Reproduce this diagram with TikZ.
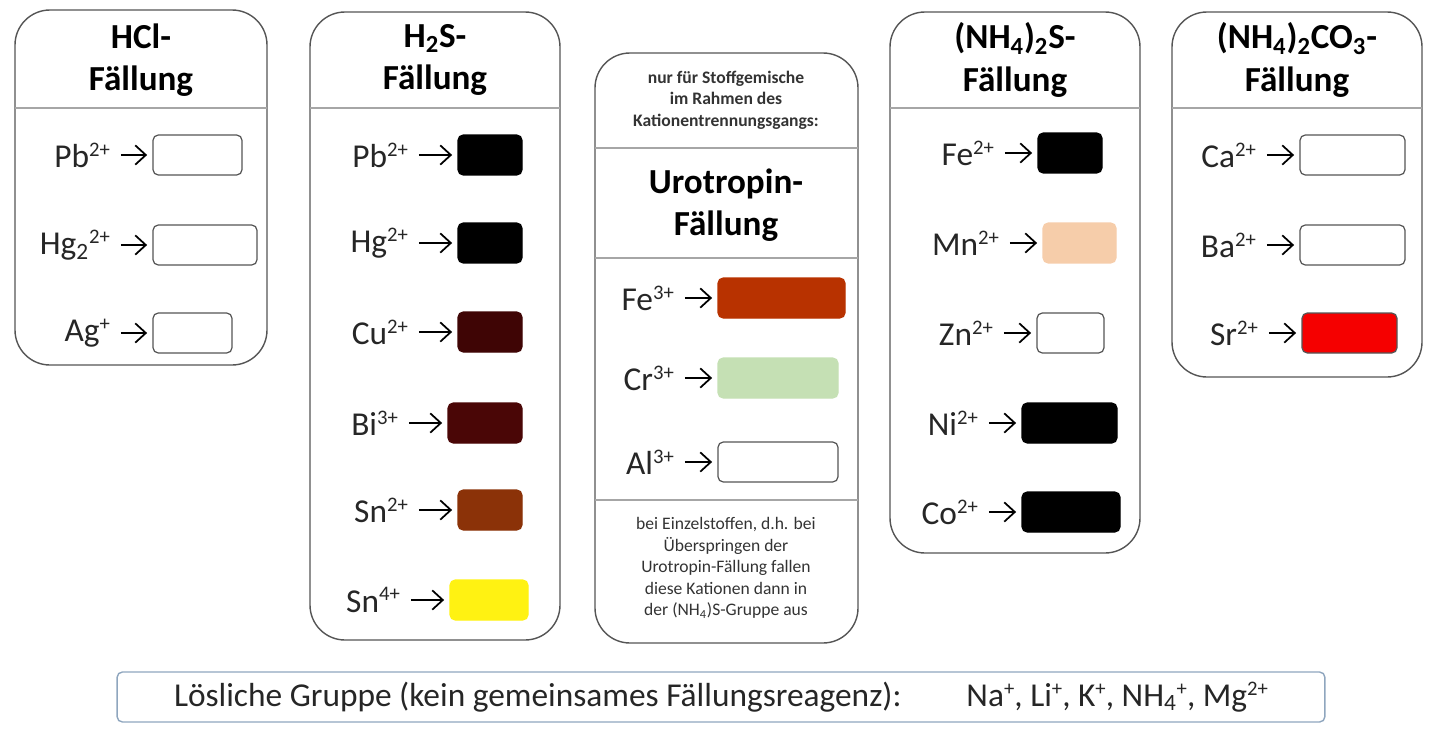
\documentclass[tikz,border=0pt]{standalone}
\usepackage{fontspec}
\setmainfont{Carlito}
\usetikzlibrary{arrows.meta}
\definecolor{cuS}{HTML}{3F0505}
\definecolor{biS}{HTML}{4A0606}
\definecolor{snS}{HTML}{8B3208}
\definecolor{snY}{HTML}{FFF212}
\definecolor{feO}{HTML}{B83200}
\definecolor{crO}{HTML}{C5E0B4}
\definecolor{mnS}{HTML}{F6CDAA}
\definecolor{srC}{HTML}{F50000}
\definecolor{frame}{HTML}{555555}
\definecolor{soft}{HTML}{8FA6BE}
\newcommand\chg[1]{\raisebox{0.7ex}{\scalebox{0.62}{#1}}}

\begin{document}
\begin{tikzpicture}[
        x=0.02cm, y=-0.02cm,
        >={Straight Barb[length=6pt,width=11pt]},
        panel/.style={draw=frame, line width=0.8pt, rounded corners=0.7cm},
        divider/.style={draw=black!35, line width=0.6pt},
        title/.style={font=\fontsize{20}{24}\selectfont\bfseries, align=center},
        ion/.style={font=\fontsize{19}{20}\selectfont, anchor=east, inner sep=1pt, text=black!85},
        link/.style={->, line width=1pt, shorten <=5pt, shorten >=3pt},
        swatch/.style={rounded corners=3pt, line width=0.7pt, minimum height=0.8cm, inner sep=0pt},
        note/.style={font=\fontsize{10}{12.3}\selectfont, align=center, text=black!80},
    ]

        \useasboundingbox (0,0) rectangle (1440,737);

        % HCl group
        \draw[panel] (15,10) rectangle (267,365);
        \draw[divider] (15,108) -- (267,108);
        \node[title] (hcl-title) at (141,60) {HCl-\\Fällung};
        \foreach \name/\y/\xa/\xb/\col/\bd [count=\i] in {
            Pb\chg{2+}/155/153/242/white/frame,
            Hg\textsubscript{2}\chg{2+}/245/153/257/white/frame,
            Ag\chg{+}/333/153/232/white/frame} {
            \node[ion] (hcl-\i) at (112,\y) {\name};
            \node[swatch, fill=\col, draw=\bd, minimum width={(\xb-\xa)*0.02cm}] (hclp-\i) at ({(\xa+\xb)/2},\y) {};
            \draw[link] (hcl-\i) -- (hclp-\i);
        }

        % H2S group
        \draw[panel] (310,12) rectangle (560,640);
        \draw[divider] (310,108) -- (560,108);
        \node[title] (hs-title) at (435,60) {H\textsubscript{2}S-\\Fällung};
        \foreach \name/\y/\xa/\xb/\col [count=\i] in {
            Pb\chg{2+}/155/458/522/black,
            Hg\chg{2+}/243/458/522/black,
            Cu\chg{2+}/332/458/522/cuS,
            Bi\chg{3+}/423/448/522/biS,
            Sn\chg{2+}/510/458/522/snS,
            Sn\chg{4+}/600/450/528/snY} {
            \node[ion] (hs-\i) at ({\xa-48},\y) {\name};
            \node[swatch, fill=\col, draw=\col, minimum width={(\xb-\xa)*0.02cm}] (hsp-\i) at ({(\xa+\xb)/2},\y) {};
            \draw[link] (hs-\i) -- (hsp-\i);
        }

        % Urotropin group
        \draw[panel] (595,53) rectangle (858,643);
        \draw[divider] (595,148) -- (858,148);
        \draw[divider] (595,258) -- (858,258);
        \draw[divider] (595,500) -- (858,500);
        \node[note, font=\fontsize{10}{12.3}\selectfont\bfseries] (uro-top) at (726,100) {nur für Stoffgemische\\im Rahmen des\\Kationentrennungsgangs:};
        \node[title] (uro-title) at (726,205) {Urotropin-\\Fällung};
        \foreach \name/\y/\xa/\xb/\col/\bd [count=\i] in {
            Fe\chg{3+}/298/718/845/feO/feO,
            Cr\chg{3+}/378/718/838/crO/crO,
            Al\chg{3+}/462/718/838/white/frame} {
            \node[ion] (uro-\i) at (676,\y) {\name};
            \node[swatch, fill=\col, draw=\bd, minimum width={(\xb-\xa)*0.02cm}] (urop-\i) at ({(\xa+\xb)/2},\y) {};
            \draw[link] (uro-\i) -- (urop-\i);
        }
        \node[note] (uro-bottom) at (726,568) {bei Einzelstoffen, d.h. bei\\Überspringen der\\Urotropin-Fällung fallen\\diese Kationen dann in\\der (NH\textsubscript{4})S-Gruppe aus};

        % (NH4)2S group
        \draw[panel] (890,12) rectangle (1140,553);
        \draw[divider] (890,108) -- (1140,108);
        \node[title] (as-title) at (1015,60) {(NH\textsubscript{4})\textsubscript{2}S-\\Fällung};
        \foreach \name/\y/\xa/\xb/\col/\bd [count=\i] in {
            Fe\chg{2+}/153/1038/1102/black/black,
            Mn\chg{2+}/243/1043/1116/mnS/mnS,
            Zn\chg{2+}/333/1037/1104/white/frame,
            Ni\chg{2+}/423/1022/1117/black/black,
            Co\chg{2+}/512/1022/1120/black/black} {
            \node[ion] (as-\i) at ({\xa-42},\y) {\name};
            \node[swatch, fill=\col, draw=\bd, minimum width={(\xb-\xa)*0.02cm}] (asp-\i) at ({(\xa+\xb)/2},\y) {};
            \draw[link] (as-\i) -- (asp-\i);
        }

        % (NH4)2CO3 group
        \draw[panel] (1172,12) rectangle (1422,377);
        \draw[divider] (1172,108) -- (1422,108);
        \node[title] (ac-title) at (1297,60) {(NH\textsubscript{4})\textsubscript{2}CO\textsubscript{3}-\\Fällung};
        \foreach \name/\y/\xa/\xb/\col/\bd [count=\i] in {
            Ca\chg{2+}/155/1300/1405/white/frame,
            Ba\chg{2+}/245/1300/1405/white/frame,
            Sr\chg{2+}/333/1302/1397/srC/frame} {
            \node[ion] (ac-\i) at ({\xa-42},\y) {\name};
            \node[swatch, fill=\col, draw=\bd, minimum width={(\xb-\xa)*0.02cm}] (acp-\i) at ({(\xa+\xb)/2},\y) {};
            \draw[link] (ac-\i) -- (acp-\i);
        }

        % soluble group
        \node[draw=soft, line width=0.8pt, rounded corners=3pt, minimum width=24.16cm, minimum height=1cm,
              font=\fontsize{19}{20}\selectfont, text=black!85] (loes) at (721,697)
            {Lösliche Gruppe (kein gemeinsames Fällungsreagenz):\hspace{1.3cm}Na\chg{+}, Li\chg{+}, K\chg{+}, NH\textsubscript{4}\chg{+}, Mg\chg{2+}};
\end{tikzpicture}
\end{document}
